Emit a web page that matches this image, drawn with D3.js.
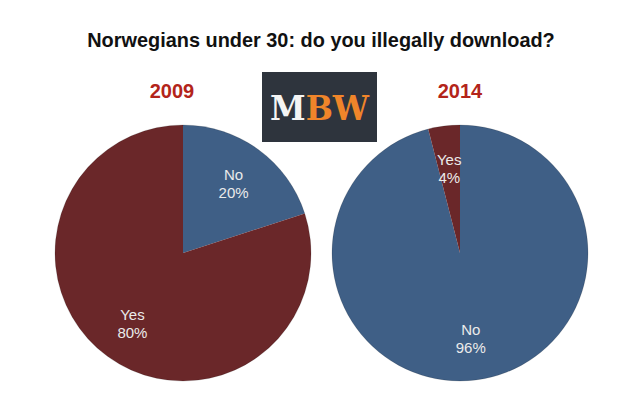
<!DOCTYPE html>
<html>
<head>
<meta charset="utf-8">
<script src="https://cdn.jsdelivr.net/npm/d3@7"></script>
<style>
  body { margin: 0; background: #fff; }
  svg { display: block; }
</style>
</head>
<body>
<svg class="chart"></svg>
<script>
const W = 640;
const H = 397;

// Data
var answers = ["No", "Yes"];
var years = ["2009", "2014"];
var shares2009 = [20, 80];
var shares2014 = [96, 4];
var title = "Norwegians under 30: do you illegally download?";

var svg = d3.select('.chart')
    .attr("width", W)
    .attr("height", H);

var color = d3.scaleOrdinal()
    .domain(answers)
    .range(["#3f5f86", "#6a2729"]);

// Pie centres
var xPos = d3.scalePoint()
    .domain(years)
    .range([183, 460]);
var yearShift = [-11, 0];  // year headings are not quite centred over the pies
var cy = 253;
var R = 128;

var pie = d3.pie().sort(null).value(d => d.value);
var arc = d3.arc().innerRadius(0).outerRadius(R);
var labelArc = d3.arc().innerRadius(86).outerRadius(86);

// Title
svg.append("text")
    .attr("x", W / 2 + 1)
    .attr("y", 47)
    .attr("text-anchor", "middle")
    .style("font", "bold 19.9px 'Liberation Sans', Arial, sans-serif")
    .style("fill", "#111")
    .text(title);

// Logo
var logo = svg.append("g");
logo.append("rect")
    .attr("x", 262).attr("y", 72)
    .attr("width", 115).attr("height", 70)
    .attr("fill", "#2e343d");
var lt = logo.append("text")
    .attr("x", 270).attr("y", 120)
    .attr("textLength", 99)
    .attr("lengthAdjust", "spacingAndGlyphs")
    .style("font", "bold 34px 'DejaVu Serif', serif");
lt.append("tspan").attr("fill", "#f4f4f4").text("M");
lt.append("tspan").attr("fill", "#f0852a").text("BW");

var datasets = [shares2009, shares2014];

years.forEach(function(yr, i) {
    let data = answers.map((a, j) => ({ answer: a, value: datasets[i][j] }));
    let g = svg.append("g")
        .attr("transform", "translate(" + xPos(yr) + "," + cy + ")");

    // Year label
    svg.append("text")
        .attr("x", xPos(yr) + yearShift[i])
        .attr("y", 98)
        .attr("text-anchor", "middle")
        .style("font", "bold 20px 'Liberation Sans', Arial, sans-serif")
        .style("fill", "#b3241a")
        .text(yr);

    let slices = pie(data);

    g.selectAll("path")
        .data(slices)
        .enter().append("path")
        .attr("d", arc)
        .attr("fill", d => color(d.data.answer));

    g.append("circle")
        .attr("r", R)
        .attr("fill", "none")
        .attr("stroke", "rgba(0,0,0,0.15)")
        .attr("stroke-width", 1);

    let labels = g.selectAll(".lbl")
        .data(slices)
        .enter().append("text")
        .attr("class", "lbl")
        .attr("transform", d => "translate(" + labelArc.centroid(d) + ")")
        .attr("text-anchor", "middle")
        .style("font", "15px 'Liberation Sans', Arial, sans-serif")
        .style("fill", "#ebebeb");
    labels.append("tspan").attr("x", 0).attr("y", -3).text(d => d.data.answer);
    labels.append("tspan").attr("x", 0).attr("y", 15).text(d => d.data.value + "%");
});
</script>
</body>
</html>
